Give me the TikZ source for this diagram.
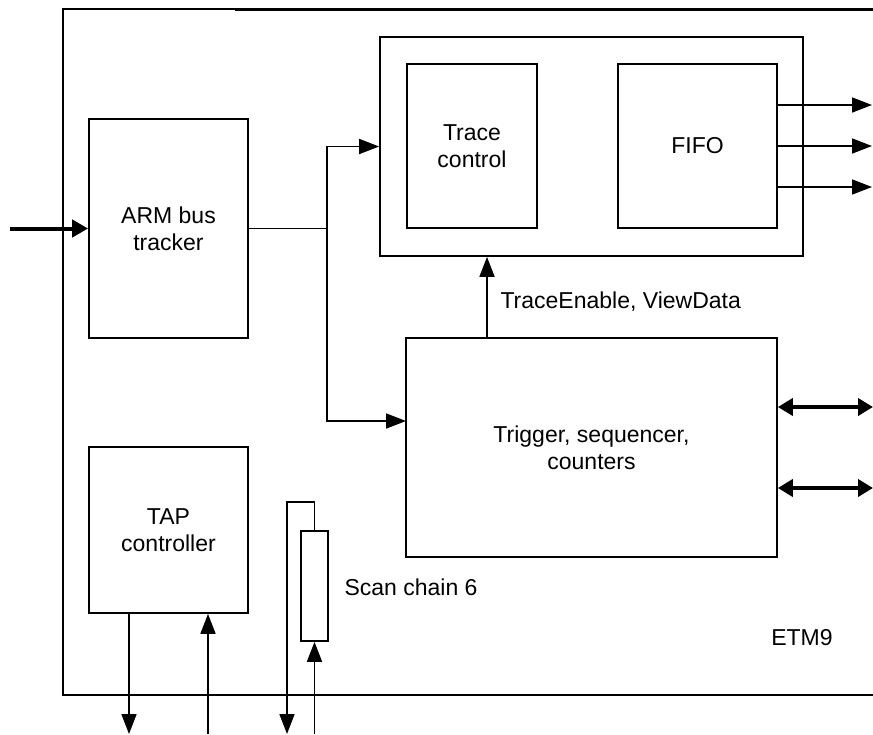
\documentclass[tikz,border=0pt]{standalone}
\usepackage{fontspec}
\setmainfont{Liberation Sans}
\usepackage{tikz}
\usetikzlibrary{arrows.meta,positioning,calc}

\tikzset{
    blk/.style={draw, line width=1.7pt, align=center, inner sep=0pt},
    arr/.style={line width=1.7pt, -{Triangle[length=20pt,width=15pt]}},
    fat/.style={line width=4pt, -{Triangle[length=16pt,width=17pt]}},
    fatboth/.style={line width=4pt, {Triangle[length=15pt,width=17pt]}-{Triangle[length=15pt,width=17pt]}}
}

\begin{document}
\begin{tikzpicture}[x=1pt, y=-1pt, font=\fontsize{23}{27}\selectfont]
    \useasboundingbox (0,0) rectangle (873,734);
    \clip (0,0) rectangle (873,734);

    % ETM9 outline, open on the right
    \draw[line width=2.4pt] (900,9) -- (63,9) -- (63,695) -- (900,695);
    \draw[line width=3pt] (235,9) -- (900,9);
    \node (etm) at (802,638) {ETM9};

    % blocks
    \node[blk, minimum width=159, minimum height=219] (arm) at (168.5,228.5) {ARM bus\\tracker};
    \node[blk, minimum width=159, minimum height=166] (tap) at (168.5,530) {TAP\\controller};
    \node[blk, minimum width=423, minimum height=219] (trace) at (591.5,146.5) {};
    \node[blk, minimum width=130, minimum height=164] (tctl) at (472,146) {Trace\\control};
    \node[blk, minimum width=159, minimum height=164] (fifo) at (697.5,146) {FIFO};
    \node[blk, minimum width=371, minimum height=219] (trig) at (591.5,447.5)
        {Trigger, sequencer,\\counters};
    \node[blk, minimum width=27, minimum height=110] (scan) at (314.5,586) {};
    \node[anchor=west] (scanlbl) at (341,587) {Scan chain 6};

    % bus tracker in/out
    \coordinate (in) at (10,228.5);
    \coordinate (j) at (327,228.5);
    \coordinate (tin) at (406,421);
    \draw[fat] (in) -- (arm.west);
    \draw[line width=1.7pt] (arm.east) -- (j);
    \draw[arr] (j) |- (trace.west);
    \draw[arr] (j) |- (tin);

    % trace enable
    \draw[arr] ([xshift=-104.5]trig.north) -- ([xshift=-104.5]trace.south);
    \node[anchor=west] (te) at (497,302) {TraceEnable, ViewData};

    % fifo outputs
    \foreach \y [count=\i] in {105,146,187} {
        \coordinate (o\i) at (872,\y);
        \draw[arr] (fifo.east |- o\i) -- (o\i);
    }

    % trigger ports
    \coordinate (b1) at (873,407);
    \coordinate (b2) at (873,488);
    \draw[fatboth] (trig.east |- b1) -- (b1);
    \draw[fatboth] (trig.east |- b2) -- (b2);

    % JTAG
    \coordinate (tdo) at (129,734);
    \coordinate (tdi) at (208,734);
    \draw[arr] (tap.south -| tdo) -- (tdo);
    \draw[arr] (tdi) -- (tap.south -| tdi);

    % scan chain
    \coordinate (sin) at (314.5,734);
    \coordinate (sout) at (287,734);
    \draw[arr] (sin) -- (scan.south);
    \draw[arr] (scan.north) -- ++(0,-28) -| (sout);

\end{tikzpicture}
\end{document}
